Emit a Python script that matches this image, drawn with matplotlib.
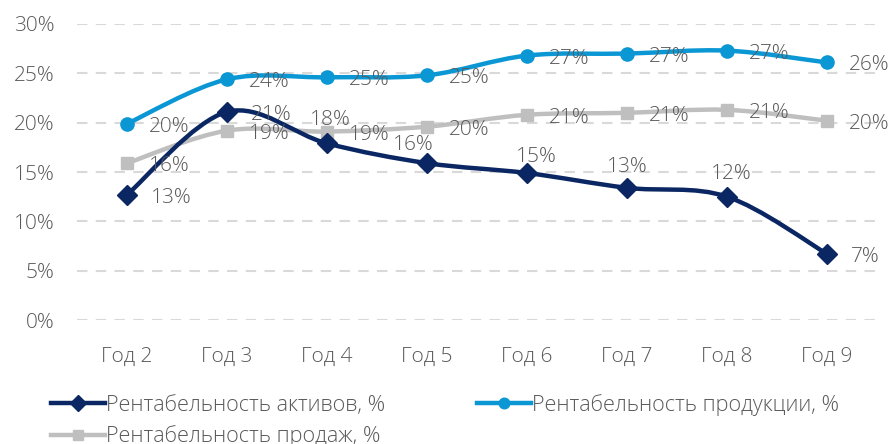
import matplotlib.pyplot as plt
from matplotlib.path import Path
from matplotlib.patches import PathPatch
from matplotlib.lines import Line2D

plt.rcParams['font.family'] = ['Open Sans', 'DejaVu Sans']
plt.rcParams['font.weight'] = 300

years = ["Год 2", "Год 3", "Год 4", "Год 5", "Год 6", "Год 7", "Год 8", "Год 9"]
assets = [12.7, 21.1, 17.9, 15.9, 14.9, 13.4, 12.5, 6.7]
product = [19.9, 24.4, 24.6, 24.8, 26.8, 27.0, 27.3, 26.1]
sales = [15.9, 19.2, 19.1, 19.6, 20.8, 21.0, 21.3, 20.2]

assets_lbl = ["13%", "21%", "18%", "16%", "15%", "13%", "12%", "7%"]
product_lbl = ["20%", "24%", "25%", "25%", "27%", "27%", "27%", "26%"]
sales_lbl = ["16%", "19%", "19%", "20%", "21%", "21%", "21%", "20%"]

navy = "#0b2763"
blue = "#0a97d4"
grey = "#bfbfbf"
txt = "#595959"


def smooth_path(xs, ys):
    # excel-like smoothed line: cubic bezier between the points
    n = len(xs)
    verts = [(xs[0], ys[0])]
    codes = [Path.MOVETO]
    for i in range(n - 1):
        x0, y0 = xs[max(i - 1, 0)], ys[max(i - 1, 0)]
        x1, y1 = xs[i], ys[i]
        x2, y2 = xs[i + 1], ys[i + 1]
        x3, y3 = xs[min(i + 2, n - 1)], ys[min(i + 2, n - 1)]
        verts += [(x1 + (x2 - x0) / 6, y1 + (y2 - y0) / 6),
                  (x2 - (x3 - x1) / 6, y2 - (y3 - y1) / 6),
                  (x2, y2)]
        codes += [Path.CURVE4] * 3
    return Path(verts, codes)


fig = plt.figure(figsize=(8.96, 4.44), dpi=100)
ax = fig.add_axes([0.086, 0.279, 0.893, 0.667])
x = list(range(len(years)))

series = [
    (sales, grey, "s", 8.5, "Рентабельность продаж, %"),
    (assets, navy, "D", 10, "Рентабельность активов, %"),
    (product, blue, "o", 9.5, "Рентабельность продукции, %"),
]
handles = {}
for vals, col, mk, ms, name in series:
    ax.add_patch(PathPatch(smooth_path(x, vals), fill=False, edgecolor=col,
                           lw=3.2, capstyle="round", joinstyle="round", zorder=3))
    ax.plot(x, vals, ls="none", marker=mk, ms=ms, color=col, zorder=4)
    handles[name] = Line2D([], [], color=col, lw=3.2, marker=mk, ms=ms * 0.8)

fs = 15
px = 0.72  # pixels -> points at 100 dpi
# label offsets in pixels (dx, dy up)
right = (24, -3)
assets_off = [right, right, (3, 23), (-14, 18), (9, 16), (0, 21), (4, 23), right]
for i in x:
    ax.annotate(product_lbl[i], (i, product[i]), xytext=(22 * px, -3 * px), textcoords="offset points",
                ha="left", va="center", fontsize=fs, color=txt, zorder=5)
    ax.annotate(sales_lbl[i], (i, sales[i]), xytext=(22 * px, -3 * px), textcoords="offset points",
                ha="left", va="center", fontsize=fs, color=txt, zorder=5)
    dx, dy = assets_off[i]
    ha = "left" if assets_off[i] == right else "center"
    ax.annotate(assets_lbl[i], (i, assets[i]), xytext=(dx * px, dy * px), textcoords="offset points",
                ha=ha, va="center", fontsize=fs, color=txt, zorder=5)

ax.set_xlim(-0.5, 7.5)
ax.set_ylim(0, 30)
ax.set_xticks(x)
ax.set_xticklabels(years)
ax.set_yticks(range(0, 31, 5))
ax.set_yticklabels([f"{v}%" for v in range(0, 31, 5)])
ax.tick_params(length=0, labelsize=fs, labelcolor=txt)
ax.tick_params(axis="x", pad=19)
ax.tick_params(axis="y", pad=16)
ax.yaxis.grid(True, ls=(0, (5, 4)), color="#d9d9d9", lw=1.5)
ax.set_axisbelow(True)
for s in ax.spines.values():
    s.set_visible(False)

# column-major fill: col 1 = assets, sales; col 2 = product
order = ["Рентабельность активов, %", "Рентабельность продаж, %", "Рентабельность продукции, %"]
leg = fig.legend([handles[k] for k in order], order, ncol=2, loc="upper left",
                 bbox_to_anchor=(0.045, 0.138), frameon=False, fontsize=15.6,
                 handlelength=2.5, handletextpad=0.05, columnspacing=4.2,
                 labelspacing=0.45, borderpad=0)
for t in leg.get_texts():
    t.set_color(txt)

fig.savefig("out.png", dpi=100)
